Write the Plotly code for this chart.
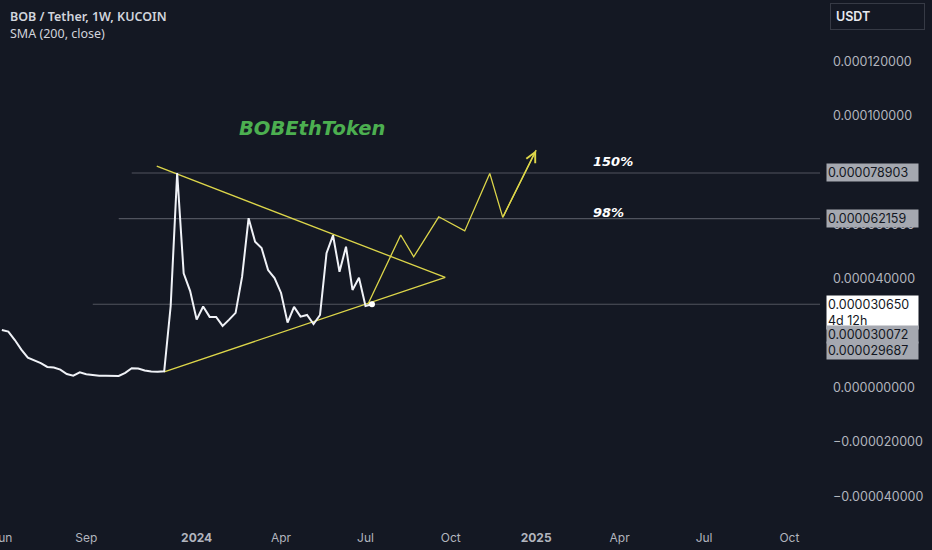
import pandas as pd
import plotly.graph_objects as go

# ---------------- data ----------------
U = 1e-6
week_start = "2023-06-05"
price = [21.2, 20.6, 17.5, 14.0, 11.0, 10.0, 9.0, 7.6, 7.4, 6.6,
         5.0, 4.4, 5.6, 4.9, 4.6, 4.4, 4.4, 4.4, 4.3, 5.4,
         7.1, 7.0, 6.3, 5.9, 5.8, 6.0, 30.0, 78.9, 42.0, 35.5,
         25.0, 29.8, 26.0, 26.0, 22.7, 25.0, 27.5, 40.8, 62.3, 53.6,
         51.3, 43.2, 40.3, 34.8, 23.9, 29.7, 26.1, 26.7, 23.4, 26.7,
         49.4, 56.0, 42.6, 51.8, 35.9, 40.4, 30.0, 30.65]
dates = pd.date_range(week_start, periods=len(price), freq="W-MON")

tri_upper_x = ["2023-11-19", "2024-09-25"]
tri_upper_y = [81.4, 40.5]
tri_lower_x = ["2023-11-27", "2024-09-25"]
tri_lower_y = [5.8, 40.5]

proj_x = ["2024-07-04", "2024-08-08", "2024-08-22", "2024-09-18",
          "2024-10-16", "2024-11-12", "2024-11-26", "2025-01-01"]
proj_y = [30.96, 56.1, 48.1, 62.8, 57.6, 78.75, 62.6, 87.3]

level_values = [78.903, 62.159, 30.650]
level_starts = ["2023-10-23", "2023-10-09", "2023-09-11"]

stacked_labels = [30.072, 29.687]
current_price = 30.650
countdown = "4d 12h"

y_ticks = [-40, -20, 0, 40, 60, 100, 120]
x_tick_vals = ["2023-06-05", "2023-09-04", "2024-01-01", "2024-04-01", "2024-07-01",
               "2024-10-01", "2025-01-01", "2025-04-01", "2025-07-01", "2025-10-01"]
x_tick_text = ["Jun", "Sep", "<b>2024</b>", "Apr", "Jul", "Oct", "<b>2025</b>", "Apr", "Jul", "Oct"]

x_range = ["2023-06-03", "2025-11-03"]
y_range = [-49.4, 142.5]

# ---------------- styles ----------------
BG = "#141823"
YEL = "#ddd64a"
AX = "#b2b5be"
LVL = "#50535e"
def fmt(v):
    return f"{v*U:.9f}".replace("-", "\u2212")

fig = go.Figure()

# horizontal levels
for v, s in zip(level_values, level_starts):
    fig.add_trace(go.Scatter(x=[s, x_range[1]], y=[v*U, v*U], mode="lines",
                             line=dict(color=LVL, width=1.2), hoverinfo="skip", showlegend=False))

# triangle
fig.add_trace(go.Scatter(x=tri_upper_x, y=[v*U for v in tri_upper_y], mode="lines",
                         line=dict(color=YEL, width=1.3), hoverinfo="skip", showlegend=False))
fig.add_trace(go.Scatter(x=tri_lower_x, y=[v*U for v in tri_lower_y], mode="lines",
                         line=dict(color=YEL, width=1.3), hoverinfo="skip", showlegend=False))

# projection zigzag
fig.add_trace(go.Scatter(x=proj_x, y=[v*U for v in proj_y], mode="lines",
                         line=dict(color=YEL, width=1.3), hoverinfo="skip", showlegend=False))

# price line
fig.add_trace(go.Scatter(x=dates, y=[v*U for v in price], mode="lines",
                         line=dict(color="#f0f2f7", width=2), showlegend=False))
fig.add_trace(go.Scatter(x=[dates[-1]], y=[price[-1]*U], mode="markers",
                         marker=dict(color="#ffffff", size=6), showlegend=False))

ann = []
# arrow head on last projection segment
ann.append(dict(x=proj_x[-1], y=proj_y[-1]*U, ax=proj_x[-2], ay=proj_y[-2]*U,
                xref="x", yref="y", axref="x", ayref="y", text="", showarrow=True,
                arrowhead=5, arrowsize=1.5, arrowwidth=1.3, arrowcolor=YEL))

# header
ann.append(dict(x=0, y=1, xref="paper", yref="paper", xanchor="left", yanchor="top",
                xshift=8, yshift=-6, text="BOB / Tether, 1W, KUCOIN", showarrow=False,
                font=dict(family="Noto Sans", size=12.5, color="#d1d4dc", weight=600)))
ann.append(dict(x=0, y=1, xref="paper", yref="paper", xanchor="left", yanchor="top",
                xshift=8, yshift=-23, text="SMA (200, close)", showarrow=False,
                font=dict(family="Noto Sans", size=12.5, color="#d1d4dc")))

# USDT box
ann.append(dict(x=1, y=1, xref="paper", yref="paper", xanchor="left", yanchor="top",
                xshift=10, yshift=-3, text="USDT", showarrow=False, width=83, height=15,
                align="left", bordercolor="#363a45", borderwidth=1, borderpad=5, bgcolor=BG,
                font=dict(family="Inter", size=12.5, color="#e8eaf0", weight=600)))

# watermark text
ann.append(dict(x="2024-05-04", y=95.4*U, xref="x", yref="y", text="BOBEthToken",
                showarrow=False, font=dict(family="DejaVu Sans", size=19.5, color="#4caf50",
                                           weight="bold", style="italic")))
ann.append(dict(x="2025-03-01", y=78.903*U, xref="x", yref="y", xanchor="left", yshift=11,
                text="150%", showarrow=False,
                font=dict(family="DejaVu Sans", size=13, color="#ffffff", weight="bold", style="italic")))
ann.append(dict(x="2025-03-01", y=62.159*U, xref="x", yref="y", xanchor="left", yshift=6,
                text="98%", showarrow=False,
                font=dict(family="DejaVu Sans", size=13, color="#ffffff", weight="bold", style="italic")))

# price labels on the axis
lab_font = dict(family="Inter", size=12.5, color="#131722")
for v in level_values[:2]:
    ann.append(dict(x=1, y=v*U, xref="paper", yref="y", xanchor="left", xshift=6,
                    text=fmt(v), showarrow=False, width=89, align="left", bgcolor="#a5a8b0",
                    borderpad=1, font=lab_font))
ann.append(dict(x=1, y=current_price*U, xref="paper", yref="y", xanchor="left", yanchor="top",
                xshift=6, yshift=9, text=fmt(current_price) + "<br>" + countdown, showarrow=False,
                width=89, align="left", bgcolor="#ffffff", borderpad=1, font=lab_font))
for v, sh in zip(stacked_labels, [-29, -44]):
    ann.append(dict(x=1, y=v*U, xref="paper", yref="y", xanchor="left", xshift=6, yshift=sh,
                    text=fmt(v), showarrow=False, width=89, align="left", bgcolor="#a5a8b0",
                    borderpad=1, font=lab_font))

fig.update_layout(
    width=932, height=550,
    margin=dict(l=0, r=112, t=0, b=28, autoexpand=False),
    paper_bgcolor=BG, plot_bgcolor=BG,
    annotations=ann, showlegend=False,
    xaxis=dict(type="date", range=x_range, showgrid=False, zeroline=False, showline=False,
               tickvals=x_tick_vals, ticktext=x_tick_text, ticks="", ticklabeloverflow="allow",
               automargin=False, ticklabelstandoff=7,
               tickfont=dict(family="Inter", size=12, color=AX)),
    yaxis=dict(side="right", range=[y_range[0]*U, y_range[1]*U], showgrid=False,
               zeroline=False, showline=False, ticks="", automargin=False,
               tickvals=[t*U for t in y_ticks], ticktext=[fmt(t) for t in y_ticks],
               tickfont=dict(family="Inter", size=12.5, color=AX), ticklabelstandoff=12),
)

fig.write_html("out.html", config={"displayModeBar": False},
               post_script="document.body.style.margin='0';document.body.style.background='%s';" % BG)
